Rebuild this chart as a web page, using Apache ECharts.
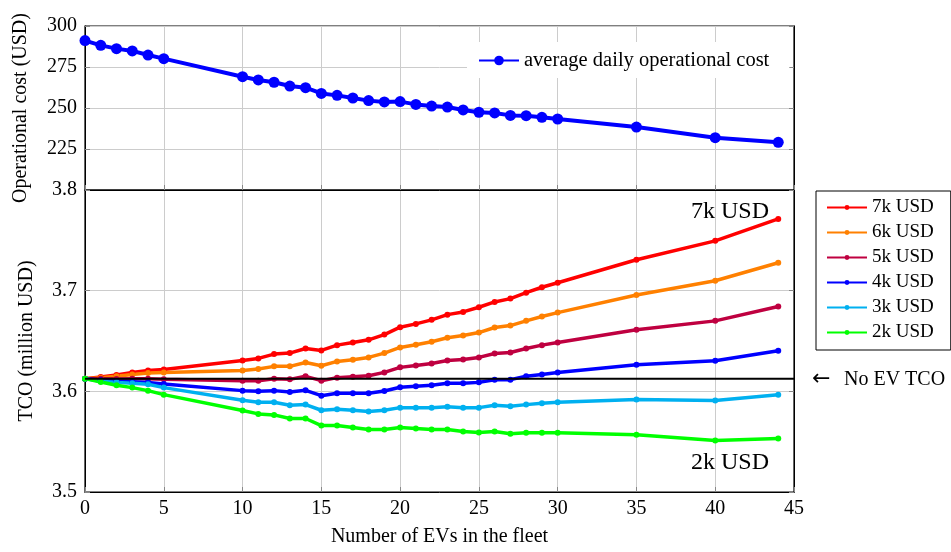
<!DOCTYPE html>
<html><head><meta charset="utf-8">
<script src="https://cdn.jsdelivr.net/npm/echarts@6/dist/echarts.min.js"></script>
<style>html,body{margin:0;padding:0;background:#fff}#c{width:951px;height:552px}</style>
</head><body><div id="c"></div><script>
// ---- data ----
const evCounts = [0,1,2,3,4,5,10,11,12,13,14,15,16,17,18,19,20,21,22,23,24,25,26,27,28,29,30,35,40,44];
const opCost = [291.1,288.2,286.2,284.8,282.3,280.1,269.1,267.1,265.7,263.4,262.4,258.9,257.7,256.1,254.5,253.7,253.9,252.2,251.2,250.6,248.8,247.4,247.0,245.5,245.3,244.3,243.3,238.4,231.9,229.1];
const tco7k = [3.6126,3.6143,3.6162,3.6188,3.6208,3.6218,3.6307,3.6327,3.6370,3.6380,3.6426,3.6406,3.6459,3.6485,3.6512,3.6564,3.6637,3.6670,3.6710,3.6762,3.6789,3.6835,3.6888,3.6921,3.6980,3.7034,3.7079,3.7307,3.7495,3.7713];
const tco6k = [3.6126,3.6136,3.6149,3.6168,3.6182,3.6188,3.6208,3.6222,3.6248,3.6248,3.6287,3.6254,3.6297,3.6314,3.6337,3.6380,3.6436,3.6462,3.6492,3.6532,3.6554,3.6584,3.6634,3.6653,3.6700,3.6743,3.6782,3.6957,3.7099,3.7277];
const tco5k = [3.6126,3.6126,3.6123,3.6126,3.6126,3.6119,3.6106,3.6106,3.6126,3.6119,3.6149,3.6106,3.6136,3.6146,3.6155,3.6188,3.6238,3.6257,3.6277,3.6307,3.6317,3.6337,3.6376,3.6386,3.6426,3.6459,3.6485,3.6611,3.6700,3.6842];
const tco4k = [3.6126,3.6109,3.6102,3.6096,3.6089,3.6073,3.6007,3.6000,3.6007,3.5994,3.6010,3.5957,3.5980,3.5980,3.5980,3.6004,3.6040,3.6050,3.6060,3.6080,3.6080,3.6089,3.6116,3.6116,3.6149,3.6168,3.6188,3.6264,3.6304,3.6403];
const tco3k = [3.6126,3.6099,3.6089,3.6080,3.6070,3.6037,3.5911,3.5891,3.5891,3.5861,3.5868,3.5812,3.5822,3.5812,3.5799,3.5812,3.5838,3.5838,3.5838,3.5848,3.5838,3.5838,3.5861,3.5851,3.5868,3.5881,3.5891,3.5918,3.5908,3.5967];
const tco2k = [3.6126,3.6093,3.6060,3.6037,3.6007,3.5967,3.5809,3.5776,3.5766,3.5730,3.5730,3.5660,3.5660,3.5640,3.5621,3.5621,3.5640,3.5630,3.5621,3.5621,3.5601,3.5591,3.5601,3.5578,3.5588,3.5588,3.5588,3.5568,3.5512,3.5532];
const noEvTco = 3.6125;
const tcoNames = ['7k USD','6k USD','5k USD','4k USD','3k USD','2k USD'];
const tcoSeries = [tco7k, tco6k, tco5k, tco4k, tco3k, tco2k];
const tcoColors = ['#ff0000','#ff8000','#bf0040','#0000ff','#00b0f0','#00ff00'];
const xTicks = {min:0, max:45, interval:5};
const topTicks = {min:200, max:300, interval:25};
const botTicks = {min:3.5, max:3.8, interval:0.1};

// ---- chart ----
const FONT = 'Liberation Serif';
const chart = echarts.init(document.getElementById('c'), null, {renderer:'canvas'});
const gridLine = {show:true, lineStyle:{color:'#cccccc', width:1}};
const axLine = {show:true, lineStyle:{color:'#000', width:1}};
const tick = {show:true, inside:true, length:5, lineStyle:{color:'#888'}};
const pair = (arr) => evCounts.map((x,i)=>[x, arr[i]]);

const series = [{
  name:'average daily operational cost', type:'line', xAxisIndex:0, yAxisIndex:0,
  data: pair(opCost), symbol:'circle', symbolSize:11, color:'#0000ff',
  lineStyle:{width:4}, animation:false, z:3
}];
tcoSeries.forEach((arr,k)=>{
  series.push({name:tcoNames[k], type:'line', xAxisIndex:1, yAxisIndex:1,
    data: pair(arr), symbol:'circle', symbolSize:6, color:tcoColors[k],
    lineStyle:{width:3.5}, animation:false, z:3});
});
series.push({name:'No EV TCO', type:'line', xAxisIndex:1, yAxisIndex:1,
  data:[[xTicks.min, noEvTco],[xTicks.max, noEvTco]], symbol:'none',
  lineStyle:{width:2, color:'#000'}, color:'#000', animation:false, z:4, silent:true});

const option = {
  animation:false,
  textStyle:{fontFamily:FONT},
  grid:[
    {left:85, right:157, top:26, height:164, show:true, borderColor:'#000', borderWidth:1.2, outerBoundsMode:'none', containLabel:false},
    {left:85, right:157, top:190, height:302, show:true, borderColor:'#000', borderWidth:1.2, outerBoundsMode:'none', containLabel:false}
  ],
  xAxis:[
    {gridIndex:0, type:'value', ...xTicks, axisLabel:{show:false}, axisTick:tick, axisLine:axLine, splitLine:gridLine},
    {gridIndex:1, type:'value', ...xTicks, axisTick:tick, axisLine:axLine, splitLine:gridLine,
     axisLabel:{fontFamily:FONT, fontSize:20, color:'#000', margin:7},
     name:'Number of EVs in the fleet', nameLocation:'middle', nameGap:35,
     nameTextStyle:{fontFamily:FONT, fontSize:20, color:'#000'}}
  ],
  yAxis:[
    {gridIndex:0, type:'value', ...topTicks, axisTick:tick, axisLine:axLine, splitLine:gridLine,
     axisLabel:{fontFamily:FONT, fontSize:20, color:'#000', margin:8,
       formatter:(v)=> v===topTicks.min ? '' : String(v)},
     name:'Operational cost (USD)', nameLocation:'middle', nameGap:54,
     nameTextStyle:{fontFamily:FONT, fontSize:20, color:'#000'}},
    {gridIndex:1, type:'value', ...botTicks, axisTick:tick, axisLine:axLine, splitLine:gridLine,
     axisLabel:{fontFamily:FONT, fontSize:20, color:'#000', margin:8, formatter:(v)=>v.toFixed(1)},
     name:'TCO (million USD)', nameLocation:'middle', nameGap:48,
     nameTextStyle:{fontFamily:FONT, fontSize:20, color:'#000'}},
    {gridIndex:0, type:'value', position:'right', ...topTicks, axisTick:tick, axisLine:axLine,
     axisLabel:{show:false}, splitLine:{show:false}},
    {gridIndex:1, type:'value', position:'right', ...botTicks, axisTick:tick, axisLine:axLine,
     axisLabel:{show:false}, splitLine:{show:false}}
  ],
  legend:[
    {data:['average daily operational cost'], left:467, top:42, orient:'horizontal',
     backgroundColor:'#fff', padding:[8,20,7,11], itemWidth:40, itemHeight:12,
     textStyle:{fontFamily:FONT, fontSize:20.5, color:'#000'}},
    {data:tcoNames, left:816, top:191, orient:'vertical', itemGap:6, itemWidth:40, itemHeight:6,
     backgroundColor:'#fff', borderColor:'#000', borderWidth:1, padding:[7,17,8,10],
     textStyle:{fontFamily:FONT, fontSize:19, color:'#000'}}
  ],
  graphic:[
    {type:'text', left:691, top:200, style:{text:'7k USD', font:'24px "Liberation Serif"', fill:'#000'}},
    {type:'text', left:691, top:451, style:{text:'2k USD', font:'24px "Liberation Serif"', fill:'#000'}},
    {type:'text', left:812, top:368, style:{text:'\u2190', font:'22px "DejaVu Sans"', fill:'#000'}},
    {type:'text', left:844, top:370, style:{text:'No EV TCO', font:'20px "Liberation Serif"', fill:'#000'}}
  ],
  series
};
chart.setOption(option);
</script></body></html>
